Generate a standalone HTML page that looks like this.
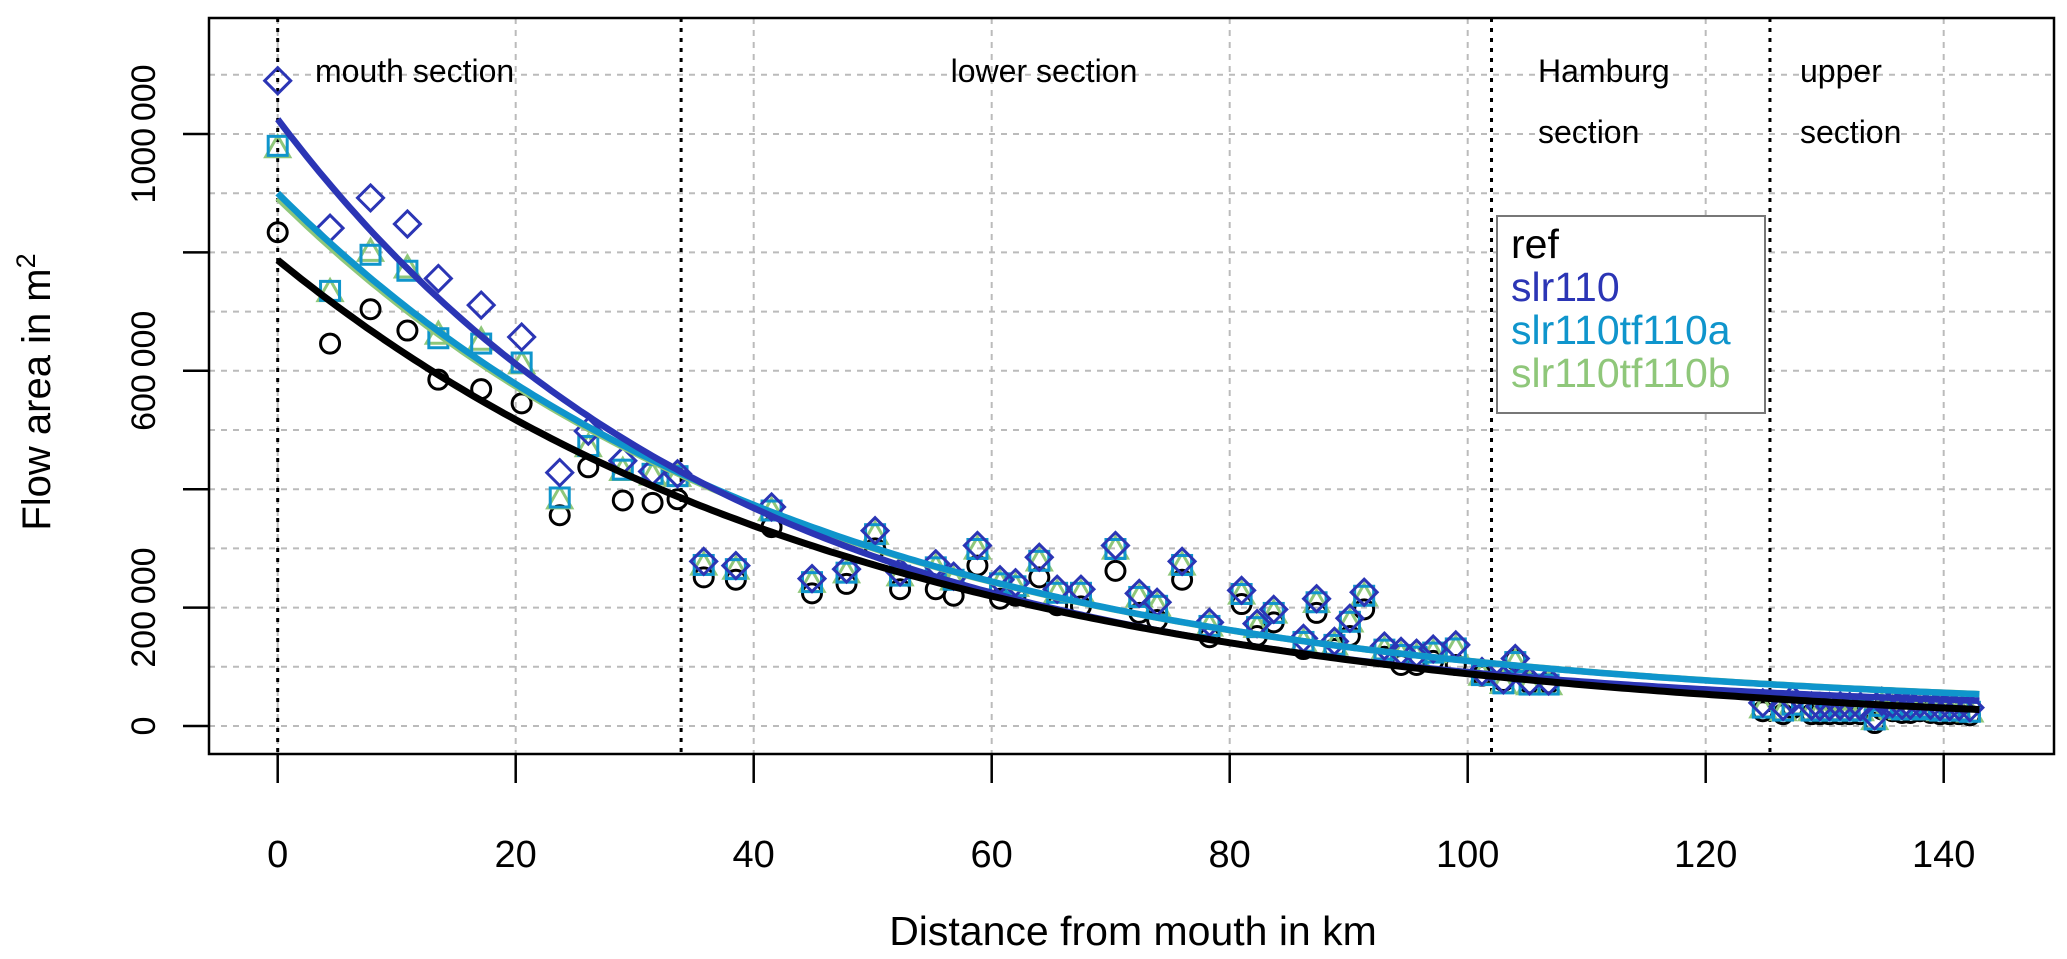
<!DOCTYPE html>
<html><head><meta charset="utf-8">
<style>
html,body{margin:0;padding:0;background:#fff;}
svg{display:block;font-family:"Liberation Sans",Arial,sans-serif;}
</style></head>
<body>
<svg id="chart" width="2067" height="959" viewBox="0 0 2067 959" xmlns="http://www.w3.org/2000/svg">
  <g id="grid"></g>
  <g id="dividers"></g>
  <g id="points"></g>
  <g id="curves"></g>
  <rect x="209" y="18" width="1845" height="736" fill="none" stroke="#000" stroke-width="2.5"/>
  <g id="xaxis"></g>
  <g id="yaxis"></g>
  <text x="1133" y="945" font-size="41" text-anchor="middle">Distance from mouth in km</text>
  <text transform="translate(50,392) rotate(-90)" font-size="40" text-anchor="middle">Flow area in m<tspan font-size="27" dy="-15">2</tspan></text>
  <text x="315" y="82" font-size="32">mouth section</text>
  <text x="1044" y="82" font-size="32" text-anchor="middle">lower section</text>
  <text x="1538" y="82" font-size="32">Hamburg</text>
  <text x="1538" y="143" font-size="32">section</text>
  <text x="1800" y="82" font-size="32">upper</text>
  <text x="1800" y="143" font-size="32">section</text>
  <g>
    <rect x="1497" y="216" width="268" height="197" fill="#fff" stroke="#777" stroke-width="2"/>
    <text x="1511" y="258" font-size="41" fill="#000">ref</text>
    <text x="1511" y="301" font-size="41" fill="#2b35b5">slr110</text>
    <text x="1511" y="344" font-size="41" fill="#0f95cc">slr110tf110a</text>
    <text x="1511" y="387" font-size="41" fill="#8fc77a">slr110tf110b</text>
  </g>
</svg>
<script>
const km = [0,4.4,7.8,10.9,13.5,17.1,20.5,23.7,26.1,29.0,31.5,33.6,35.8,38.5,41.5,44.9,47.8,50.2,52.3,55.3,56.8,58.8,60.7,62.0,64.0,65.5,67.5,70.4,72.4,73.9,76.0,78.3,81.0,82.3,83.7,86.2,87.3,88.8,90.1,91.3,93.0,94.4,95.7,97.1,99.0,101.2,103.0,104.0,105.2,106.8,
124.8,126.5,127.3,128.9,129.6,130.4,131.3,132.1,133.0,134.2,134.8,135.7,136.5,137.2,138.0,138.9,139.7,140.5,141.3,142.2];
const refVals = [834000,646000,704000,668000,585000,569000,545000,356000,437000,381000,377000,383000,251000,247000,336000,224000,240000,300000,231000,231000,220000,271000,215000,220000,251000,204000,202000,262000,191000,179000,247000,150000,206000,152000,175000,130000,191000,130000,152000,197000,117000,103000,103000,110000,103000,85000,76000,112000,72000,72000,
25000,20000,30000,20000,20000,20000,20000,20000,20000,5000,28000,25000,22000,22000,25000,22000,20000,20000,20000,18000];
const slr110Vals = [1090000,841000,892000,848000,756000,711000,657000,428000,498000,448000,430000,426000,278000,271000,370000,249000,265000,330000,260000,274000,253000,305000,247000,242000,285000,231000,231000,305000,224000,209000,278000,175000,229000,173000,197000,148000,215000,143000,182000,226000,135000,126000,123000,130000,137000,92000,78000,114000,76000,76000,
39000,33000,45000,34000,33000,33000,34000,33000,33000,17000,42000,38000,35000,35000,38000,35000,33000,33000,33000,31000];
const tfaVals = [980000,735000,796000,769000,655000,646000,614000,386000,473000,433000,426000,422000,272000,265000,364000,243000,259000,324000,254000,268000,247000,299000,241000,236000,279000,225000,225000,299000,218000,203000,272000,169000,223000,167000,191000,142000,209000,137000,176000,220000,129000,120000,117000,124000,131000,86000,72000,108000,70000,70000,
31000,26000,36000,26000,26000,26000,26000,26000,26000,11000,34000,31000,28000,28000,31000,28000,26000,26000,26000,24000];
const tfbVals = [975000,732000,800000,772000,660000,650000,610000,382000,470000,430000,422000,420000,270000,263000,362000,241000,257000,322000,252000,266000,245000,297000,239000,234000,277000,223000,223000,297000,216000,201000,270000,167000,221000,165000,189000,140000,207000,135000,174000,218000,127000,118000,115000,122000,129000,84000,70000,106000,68000,68000,
29000,24000,34000,24000,24000,24000,24000,24000,24000,9000,32000,29000,26000,26000,29000,26000,24000,24000,24000,22000];
// exponential fit curves: a*exp(-b*km)+c  (order: ref, slr110, tf110a, tf110b)
const fitA = [802000, 1005000, 880000, 872000];
const fitB = [0.0205, 0.0265, 0.0228, 0.0227];
const fitC = [-15000, 20000, 20000, 20000];
const xTicks = [0,20,40,60,80,100,120,140];
const yTicks = [0,200000,400000,600000,800000,1000000];
const yTickLabels = ["0","200\u2009000","","600\u2009000","","1000\u2009000"];
const sectionBounds = [0,33.9,102.0,125.4];

const NS="http://www.w3.org/2000/svg";
const xs = v => 277.7 + v*11.9;
const ys = v => 726 - v*0.000592;
function mk(tag, attrs, parent){const e=document.createElementNS(NS,tag);for(const k in attrs)e.setAttribute(k,attrs[k]);parent.appendChild(e);return e;}

const grid=document.getElementById('grid');
for(let v=0; v<=1100000; v+=100000){
  const l=mk('line',{x1:209,x2:2054,y1:ys(v),y2:ys(v),stroke:'#bbb','stroke-width':2,'stroke-dasharray':'6,6'},grid);
  
  
}
xTicks.forEach(t=>{
  const l=mk('line',{x1:xs(t),x2:xs(t),y1:18,y2:754,stroke:'#bbb','stroke-width':2,'stroke-dasharray':'6,6'},grid);
  
  
});
const div=document.getElementById('dividers');
sectionBounds.forEach(b=>{
  const l=mk('line',{x1:xs(b),x2:xs(b),y1:18,y2:754,stroke:'#000','stroke-width':3,'stroke-dasharray':'4,6'},div);
  
  
});

const pts=document.getElementById('points');
km.forEach((k,i)=>{
  const c=mk('circle',{cx:xs(k),cy:ys(refVals[i]),r:9.5,fill:'none',stroke:'#000','stroke-width':3},pts);
  
  
});
km.forEach((k,i)=>{
  const x=xs(k), y=ys(tfbVals[i]);
  const p=mk('polygon',{points:`${x},${y-13} ${x+12},${y+8} ${x-12},${y+8}`,fill:'none',stroke:'#8fc77a','stroke-width':3},pts);
  
  
});
km.forEach((k,i)=>{
  const x=xs(k), y=ys(tfaVals[i]);
  const r=mk('rect',{x:x-9.5,y:y-9.5,width:19,height:19,fill:'none',stroke:'#0f95cc','stroke-width':3},pts);
  
  
});
km.forEach((k,i)=>{
  const x=xs(k), y=ys(slr110Vals[i]);
  const p=mk('polygon',{points:`${x},${y-13} ${x+13},${y} ${x},${y+13} ${x-13},${y}`,fill:'none',stroke:'#2b35b5','stroke-width':3},pts);
  
  
});

const curves=document.getElementById('curves');
const curveColors=['#000','#2b35b5','#0f95cc','#8fc77a'];
const curveNames=['fit-curve-ref','fit-curve-slr110','fit-curve-slr110tf110a','fit-curve-slr110tf110b'];
[3,2,1,0].forEach(s=>{
  let d='';
  for(let k=0;k<=143;k+=0.5){
    const v=fitA[s]*Math.exp(-fitB[s]*k)+fitC[s];
    d+=(k===0?'M':'L')+xs(k).toFixed(1)+','+ys(v).toFixed(1);
  }
  const p=mk('path',{d:d,fill:'none',stroke:curveColors[s],'stroke-width':s===0?7:6.5},curves);
  
  
});

const xa=document.getElementById('xaxis');
xTicks.forEach(t=>{
  const l=mk('line',{x1:xs(t),x2:xs(t),y1:754,y2:783,stroke:'#000','stroke-width':2.5},xa);
  
  
  const tx=mk('text',{x:xs(t),y:867,'font-size':38,'text-anchor':'middle'},xa);
  tx.textContent=t;
  
  
});
const ya=document.getElementById('yaxis');
yTicks.forEach((t,i)=>{
  const l=mk('line',{x1:183,x2:209,y1:ys(t),y2:ys(t),stroke:'#000','stroke-width':2.5},ya);
  
  
  if(yTickLabels[i]){
    const tx=mk('text',{transform:`translate(155,${ys(t)}) rotate(-90)`,'font-size':34,'text-anchor':'middle'},ya);
    tx.textContent=yTickLabels[i];
    
    
  }
});
</script>
</body></html>
